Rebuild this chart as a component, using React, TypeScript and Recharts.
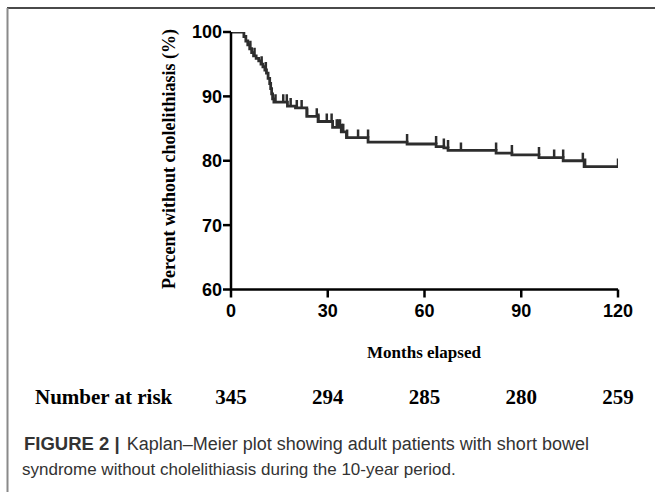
import { ComposedChart, Line, Scatter, XAxis, YAxis } from "recharts";

// Kaplan-Meier step points (months, percent without cholelithiasis)
const stepMonths = [
  0, 4.0, 4.6, 5.2, 5.8, 6.4, 7.0, 7.8, 8.6, 9.3, 9.9, 10.5, 11.0, 11.5, 12.0, 12.3, 12.6, 12.9, 13.3,
  17.5, 20.0, 23.5, 27.0, 31.5, 34.2, 35.8, 42.5, 54.6, 63.6, 66.0, 67.3, 82.2, 87.1, 95.5, 103.0, 109.5, 120,
];
const stepPercent = [
  100, 99.3, 98.6, 98.0, 97.4, 96.8, 96.3, 95.9, 95.5, 95.0, 94.6, 94.1, 93.6, 92.8, 92.0, 91.2, 90.4, 89.6, 89.1,
  88.5, 88.2, 86.9, 86.1, 85.2, 84.5, 83.6, 82.9, 82.6, 82.2, 82.0, 81.6, 81.2, 80.9, 80.5, 80.0, 79.1, 79.1,
];

// censored observations
const censorMonths = [
  4.0, 6.0, 7.3, 9.5, 10.8, 13.8, 16.2, 17.3, 18.5, 20.4, 21.9, 23.6, 26.6, 27.1, 29.7, 31.2, 32.8, 33.3, 33.8,
  34.4, 34.8, 36.0, 39.4, 42.5, 54.6, 63.6, 66.0, 67.3, 71.3, 82.2, 87.1, 95.5, 100.2, 103.0, 109.1, 109.8, 120,
];
const censorPercent = [
  100, 97.4, 96.3, 95.0, 94.1, 89.1, 89.1, 89.1, 88.5, 88.2, 88.2, 86.9, 86.9, 86.1, 86.1, 86.1, 85.2, 85.2, 85.2,
  84.5, 84.5, 83.6, 83.6, 83.6, 82.9, 82.6, 82.2, 82.0, 81.6, 81.6, 81.2, 80.9, 80.5, 80.5, 80.0, 79.1, 79.1,
];

const xTicks = [0, 30, 60, 90, 120];
const yTicks = [60, 70, 80, 90, 100];
const atRisk = [345, 294, 285, 280, 259];

const curve = stepMonths.map((m, i) => ({ month: m, pct: stepPercent[i] }));
const censored = censorMonths.map((m, i) => ({ month: m, pct: censorPercent[i] }));

const tickStyle = { fill: "#000", fontSize: 18, fontWeight: "bold", fontFamily: "'Liberation Sans', Arial, sans-serif" };
const serif = "'Liberation Serif', 'Times New Roman', serif";
const sans = "'Liberation Sans', Arial, sans-serif";

// plot area: x 231..618, y 32..289.5
const px = (m: number) => 231 + (m / 120) * 387;

const CensorMark = (props: any) => {
  const { cx, cy } = props;
  if (cx == null || cy == null) return null;
  return <line x1={cx} x2={cx} y1={cy} y2={cy - 8} stroke="#2d2d2d" strokeWidth={2.5} />;
};

export default function App() {
  return (
    <div style={{ position: "absolute", left: 0, top: 0, width: 655, height: 492, background: "#fff" }}>
      <ComposedChart width={655} height={492} margin={{ top: 32, right: 37, bottom: 172.5, left: 0 }}>
        <XAxis
          type="number"
          dataKey="month"
          domain={[0, 120]}
          ticks={xTicks}
          allowDataOverflow
          height={30}
          tickSize={8}
          tickMargin={7}
          axisLine={{ stroke: "#000", strokeWidth: 2.5 }}
          tickLine={{ stroke: "#000", strokeWidth: 2.5 }}
          tick={tickStyle}
        />
        <YAxis
          type="number"
          dataKey="pct"
          domain={[60, 100]}
          ticks={yTicks}
          allowDataOverflow
          width={231}
          tickSize={8}
          tickMargin={1}
          axisLine={{ stroke: "#000", strokeWidth: 2.5 }}
          tickLine={{ stroke: "#000", strokeWidth: 2.5 }}
          tick={tickStyle}
        />
        <Line
          data={curve}
          type="stepAfter"
          dataKey="pct"
          stroke="#2d2d2d"
          strokeWidth={2.8}
          dot={false}
          activeDot={false}
          isAnimationActive={false}
        />
        <Scatter data={censored} dataKey="pct" shape={CensorMark} isAnimationActive={false} />
      </ComposedChart>

      <svg width={655} height={492} style={{ position: "absolute", left: 0, top: 0, pointerEvents: "none" }}>
        <line x1={7} y1={8} x2={655} y2={8} stroke="#4a4a4a" strokeWidth={2} />
        <line x1={7.5} y1={8} x2={7.5} y2={492} stroke="#8a8a8a" strokeWidth={2} />
        <text
          transform="translate(169,159) rotate(-90)"
          textAnchor="middle"
          dominantBaseline="central"
          fontFamily={serif}
          fontWeight="bold"
          fontSize={18}
          fill="#000"
        >
          Percent without cholelithiasis (%)
        </text>
        <text x={424} y={358} textAnchor="middle" fontFamily={serif} fontWeight="bold" fontSize={17} fill="#000">
          Months elapsed
        </text>
        <text x={35} y={404} fontFamily={serif} fontWeight="bold" fontSize={21} fill="#000">
          Number at risk
        </text>
        {atRisk.map((n, i) => (
          <text key={n} x={px(xTicks[i])} y={404} textAnchor="middle" fontFamily={serif} fontWeight="bold" fontSize={21} fill="#000">
            {n}
          </text>
        ))}
        <text x={24} y={450} fontFamily={sans} fontSize={18} fill="#333">
          <tspan fontWeight="bold" fontSize={18.5}>FIGURE 2 |</tspan>
          <tspan dx={7}>Kaplan–Meier plot showing adult patients with short bowel</tspan>
        </text>
        <text x={22} y={475} fontFamily={sans} fontSize={17} fill="#333">
          syndrome without cholelithiasis during the 10-year period.
        </text>
      </svg>
    </div>
  );
}
